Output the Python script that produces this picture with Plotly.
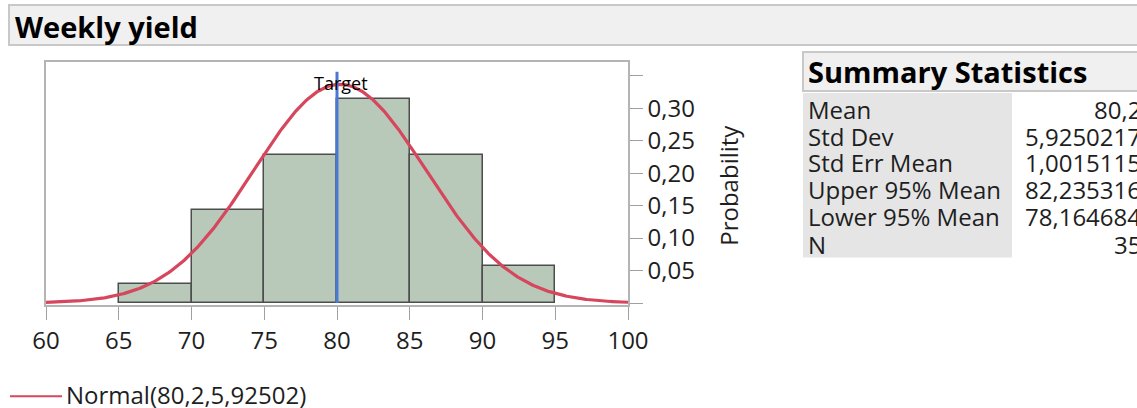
import numpy as np
import plotly.graph_objects as go

# ---------------- data ----------------
bin_edges = [65, 70, 75, 80, 85, 90, 95]
bin_counts = [1, 5, 8, 11, 8, 2]
n_obs = 35
fit_mean = 80.2
fit_sd = 5.92502
target_value = 80
x_ticks = [60, 65, 70, 75, 80, 85, 90, 95, 100]
y_ticks = [0, 0.05, 0.10, 0.15, 0.20, 0.25, 0.30, 0.35]
y_ticktext = ["", "0,05", "0,10", "0,15", "0,20", "0,25", "0,30", ""]
stat_labels = ["Mean", "Std Dev", "Std Err Mean", "Upper 95% Mean", "Lower 95% Mean", "N"]
stat_values = ["80,2", "5,9250217", "1,0015115", "82,235316", "78,164684", "35"]
legend_label = "Normal(80,2,5,92502)"
chart_title = "Weekly yield"
table_title = "Summary Statistics"

# ---------------- geometry ----------------
W, H = 1137, 408
L, R, T, B = 46, 628, 62, 305.5
FONT = "Open Sans"
TXT = "#1e1e1e"


def px(x):
    return (x - L) / (R - L)


def py(y):
    return (B - y) / (B - T)


centers = [(a + b) / 2 for a, b in zip(bin_edges[:-1], bin_edges[1:])]
widths = [b - a for a, b in zip(bin_edges[:-1], bin_edges[1:])]
probs = [c / n_obs for c in bin_counts]

xs = np.linspace(60, 100, 401)
bw = bin_edges[1] - bin_edges[0]
ys = bw * np.exp(-0.5 * ((xs - fit_mean) / fit_sd) ** 2) / (fit_sd * np.sqrt(2 * np.pi))

fig = go.Figure()
fig.add_trace(go.Bar(x=centers, y=probs, width=widths,
                     marker=dict(color="#b9c9b9", line=dict(color="#4d4d4d", width=1.5)),
                     showlegend=False, hoverinfo="skip"))
fig.add_trace(go.Scatter(x=xs, y=ys, mode="lines",
                         line=dict(color="#d6465d", width=3.2),
                         showlegend=False, hoverinfo="skip"))

shapes = []
shapes.append(dict(type="line", xref="x", yref="y", x0=target_value, x1=target_value,
                   y0=0, y1=0.356, line=dict(color="#4a78d4", width=3), layer="above"))
shapes.append(dict(type="rect", xref="paper", yref="paper", x0=px(9), x1=px(1160),
                   y0=py(45), y1=py(5), fillcolor="#f0f0f0", line=dict(color="#c8c8c8", width=2)))
shapes.append(dict(type="rect", xref="paper", yref="paper", x0=px(803), x1=px(1160),
                   y0=py(91), y1=py(52), fillcolor="#f0f0f0", line=dict(color="#c8c8c8", width=2)))
shapes.append(dict(type="rect", xref="paper", yref="paper", x0=px(803), x1=px(1012),
                   y0=py(258), y1=py(93), fillcolor="#e5e5e5", line=dict(width=0)))
shapes.append(dict(type="line", xref="paper", yref="paper", x0=px(10), x1=px(62),
                   y0=py(397), y1=py(397), line=dict(color="#d6465d", width=2)))

ann = []
ann.append(dict(text=chart_title, x=px(13), y=py(26), xref="paper", yref="paper",
                xanchor="left", yanchor="middle", showarrow=False,
                font=dict(family=FONT, size=29, color="#000000", weight="bold")))
ann.append(dict(text=table_title, x=px(806), y=py(72), xref="paper", yref="paper",
                xanchor="left", yanchor="middle", showarrow=False,
                font=dict(family=FONT, size=29, color="#000000", weight="bold")))
row_y = [110, 137, 163, 190, 217, 245]
for lab, val, yy in zip(stat_labels, stat_values, row_y):
    ann.append(dict(text=lab, x=px(806), y=py(yy), xref="paper", yref="paper",
                    xanchor="left", yanchor="middle", showarrow=False,
                    font=dict(family=FONT, size=24, color=TXT)))
    ann.append(dict(text=val, x=px(1143), y=py(yy), xref="paper", yref="paper",
                    xanchor="right", yanchor="middle", showarrow=False,
                    font=dict(family=FONT, size=24, color=TXT)))
ann.append(dict(text="Target", x=target_value + 0.3, y=0.339, xref="x", yref="y",
                xanchor="center", yanchor="middle", showarrow=False,
                font=dict(family=FONT, size=18, color="#000000")))
ann.append(dict(text="Probability", x=px(729), y=py(186), xref="paper", yref="paper",
                xanchor="center", yanchor="middle", showarrow=False, textangle=-90,
                font=dict(family=FONT, size=24, color=TXT)))
ann.append(dict(text=legend_label, x=px(64), y=py(395), xref="paper", yref="paper",
                xanchor="left", yanchor="middle", showarrow=False,
                font=dict(family=FONT, size=24, color=TXT)))

fig.update_layout(
    width=W, height=H,
    margin=dict(l=L, r=W - R, t=T, b=H - B, pad=0),
    paper_bgcolor="white", plot_bgcolor="white",
    separators=", ",
    shapes=shapes, annotations=ann, bargap=0,
    font=dict(family=FONT, size=24, color=TXT),
    xaxis=dict(range=[60, 100], tickvals=x_ticks, ticks="outside", ticklen=13,
               tickcolor="#a0a0a0", showline=True, linecolor="#b4b4b4", linewidth=1.5,
               mirror=True, showgrid=False, zeroline=False,
               tickfont=dict(family=FONT, size=24, color=TXT)),
    yaxis=dict(range=[-0.003, 0.371], side="right", tickvals=y_ticks, ticktext=y_ticktext,
               ticks="outside", ticklen=13, tickcolor="#a0a0a0", showline=True,
               linecolor="#b4b4b4", linewidth=1.5, mirror=True, showgrid=False,
               zeroline=False, tickfont=dict(family=FONT, size=24, color=TXT)),
)

fig.write_html("out.html", config={"displayModeBar": False},
               post_script="document.body.style.margin='0';document.body.style.overflow='hidden';")
